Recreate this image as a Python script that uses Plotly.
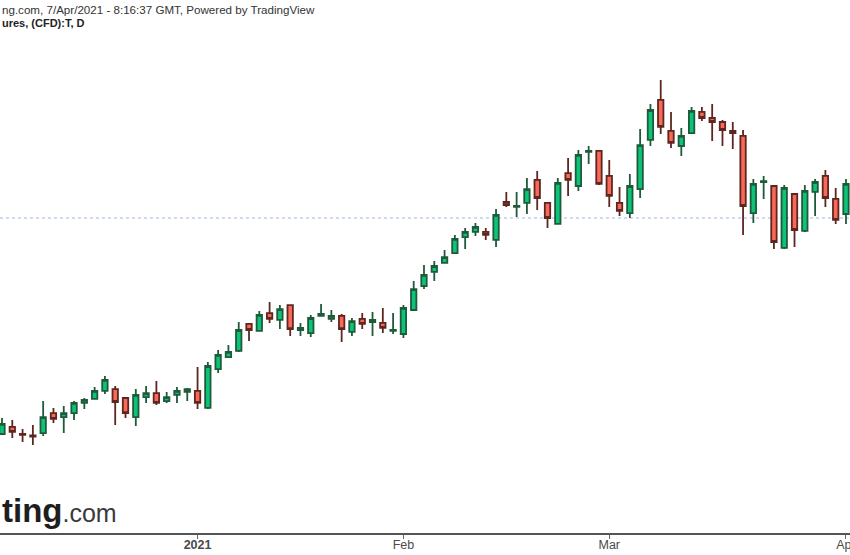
import plotly.graph_objects as go

dates = [
    "2020-12-04", "2020-12-07", "2020-12-08", "2020-12-09", "2020-12-10", "2020-12-11",
    "2020-12-14", "2020-12-15", "2020-12-16", "2020-12-17", "2020-12-18",
    "2020-12-21", "2020-12-22", "2020-12-23", "2020-12-24", "2020-12-28",
    "2020-12-29", "2020-12-30", "2020-12-31",
    "2021-01-04", "2021-01-05", "2021-01-06", "2021-01-07", "2021-01-08",
    "2021-01-11", "2021-01-12", "2021-01-13", "2021-01-14", "2021-01-15",
    "2021-01-18", "2021-01-19", "2021-01-20", "2021-01-21", "2021-01-22",
    "2021-01-25", "2021-01-26", "2021-01-27", "2021-01-28", "2021-01-29",
    "2021-02-01", "2021-02-02", "2021-02-03", "2021-02-04", "2021-02-05",
    "2021-02-08", "2021-02-09", "2021-02-10", "2021-02-11", "2021-02-12",
    "2021-02-15", "2021-02-16", "2021-02-17", "2021-02-18", "2021-02-19",
    "2021-02-22", "2021-02-23", "2021-02-24", "2021-02-25", "2021-02-26",
    "2021-03-01", "2021-03-02", "2021-03-03", "2021-03-04", "2021-03-05",
    "2021-03-08", "2021-03-09", "2021-03-10", "2021-03-11", "2021-03-12",
    "2021-03-15", "2021-03-16", "2021-03-17", "2021-03-18", "2021-03-19",
    "2021-03-22", "2021-03-23", "2021-03-24", "2021-03-25", "2021-03-26",
    "2021-03-29", "2021-03-30", "2021-03-31", "2021-04-01",
]

open_ = [
    45.80, 46.24, 45.80, 45.71, 45.86, 47.11, 46.86, 47.11, 47.74, 47.99, 48.49,
    48.61, 48.05, 46.86, 48.11, 48.36, 47.86, 48.24, 48.43,
    48.49, 47.43, 49.86, 50.61, 50.99, 52.68, 52.24, 53.36, 52.93, 53.86,
    52.30, 52.11, 53.18, 52.99, 53.18, 52.18, 52.99, 52.80, 52.74, 52.24,
    52.05, 53.55, 55.05, 55.93, 56.49, 57.11, 58.11, 58.43, 58.43, 57.93,
    60.30, 59.99, 60.24, 61.68, 60.24, 58.93, 62.11, 61.30, 63.43, 63.49,
    61.93, 60.24, 59.61, 61.11, 64.18, 66.68, 64.74, 63.80, 64.61, 65.93,
    65.55, 65.30, 64.74, 64.43, 59.61, 61.55, 61.30, 57.43, 60.80, 58.49,
    60.93, 61.93, 60.49, 59.55,
]
high = [
    46.80, 46.68, 46.11, 46.36, 47.86, 47.43, 47.55, 47.86, 48.05, 48.74, 49.43,
    48.80, 48.05, 48.61, 48.80, 49.11, 48.43, 48.74, 48.68,
    49.99, 50.30, 51.05, 51.36, 52.80, 52.74, 53.49, 54.05, 53.86, 53.86,
    52.74, 53.24, 53.93, 53.55, 53.30, 53.05, 53.36, 53.43, 53.68, 53.36,
    53.86, 55.36, 56.36, 56.61, 57.30, 58.24, 58.68, 58.99, 58.68, 59.86,
    60.93, 60.93, 61.80, 62.24, 60.30, 61.80, 63.05, 63.55, 63.80, 63.55,
    62.93, 61.24, 62.05, 64.86, 66.43, 67.93, 65.93, 64.93, 66.24, 66.24,
    66.43, 65.43, 65.30, 64.80, 61.74, 61.93, 61.36, 61.36, 60.86, 61.36,
    61.74, 62.30, 61.18, 61.74,
]
low = [
    45.74, 45.55, 45.30, 45.11, 45.68, 46.49, 45.86, 46.68, 47.36, 47.99, 48.30,
    46.36, 46.80, 46.30, 47.74, 47.61, 47.74, 47.74, 47.86,
    47.36, 47.36, 49.61, 50.55, 50.93, 51.61, 52.24, 52.74, 52.36, 51.93,
    51.93, 51.86, 53.18, 52.80, 51.55, 51.93, 52.36, 51.93, 52.11, 52.05,
    51.80, 53.55, 54.86, 55.36, 56.49, 57.11, 57.36, 58.18, 57.93, 57.49,
    59.99, 59.36, 59.55, 59.80, 58.68, 58.93, 60.68, 60.99, 62.68, 61.36,
    59.99, 59.43, 59.30, 60.55, 63.80, 64.55, 63.68, 63.18, 64.55, 65.36,
    64.11, 63.80, 63.61, 58.24, 58.99, 60.49, 57.36, 57.36, 57.49, 58.43,
    59.43, 59.99, 58.93, 58.93,
]
close = [
    46.43, 45.93, 45.74, 45.64, 46.86, 46.74, 47.11, 47.74, 47.93, 48.49, 49.18,
    47.80, 47.11, 48.24, 48.36, 47.74, 48.11, 48.49, 48.61,
    47.74, 50.05, 50.74, 50.93, 52.30, 52.30, 53.24, 52.99, 53.61, 52.36,
    52.43, 53.05, 53.30, 53.18, 52.36, 52.86, 52.68, 52.93, 52.43, 52.30,
    53.68, 54.86, 55.74, 56.30, 56.86, 57.99, 58.43, 58.74, 58.24, 59.49,
    60.11, 60.05, 61.11, 60.55, 59.30, 61.49, 61.68, 63.24, 63.49, 61.43,
    60.68, 59.74, 61.30, 63.86, 66.05, 64.99, 63.99, 64.43, 65.99, 65.55,
    65.30, 64.80, 64.61, 60.05, 61.43, 61.61, 57.80, 61.18, 58.55, 60.99,
    61.55, 60.55, 59.18, 61.43,
]

tick_dates = ["2021-01-04", "2021-02-01", "2021-03-01", "2021-04-01"]
tick_labels = ["<b>2021</b>", "Feb", "Mar", "Apr"]
last_price = 59.30

header_line1 = "ng.com, 7/Apr/2021 - 8:16:37 GMT, Powered by TradingView"
header_line2 = "ures, (CFD):T, D"

fig = go.Figure()
fig.add_trace(go.Candlestick(
    x=dates, open=open_, high=high, low=low, close=close,
    increasing=dict(fillcolor="#0cc479", line=dict(color="#1f5a3a", width=1.8)),
    decreasing=dict(fillcolor="#fa6858", line=dict(color="#5e2620", width=1.8)),
    whiskerwidth=0,
    showlegend=False,
    hoverinfo="x+y",
))

fig.add_shape(type="line", xref="paper", x0=0, x1=1, yref="y", y0=last_price, y1=last_price,
              line=dict(color="#9fb5ee", width=1, dash="dot"), layer="below")

fig.update_layout(
    width=850, height=555,
    margin=dict(l=0, r=0, t=0, b=22, autoexpand=False),
    paper_bgcolor="white", plot_bgcolor="white",
    boxgap=0.25,
    font=dict(family="Liberation Sans, Arial, sans-serif", color="#444"),
    xaxis=dict(
        type="category", range=[-0.194, 82.39], automargin=False,
        rangeslider=dict(visible=False),
        showgrid=False, zeroline=False,
        showline=True, linecolor="#555", linewidth=2,
        ticks="outside", ticklen=4, tickcolor="#666", tickwidth=1,
        ticklabelstandoff=-5,
        tickvals=tick_dates, ticktext=tick_labels,
        tickfont=dict(size=12.5, color="#4a4a4a"),
    ),
    yaxis=dict(
        range=[39.6125, 72.925], showgrid=False, zeroline=False, automargin=False,
        showticklabels=False, showline=False, ticks="",
    ),
    annotations=[
        dict(text=header_line1, xref="paper", yref="paper", x=0, y=1.0, xanchor="left",
             yanchor="top", yshift=-1, showarrow=False, font=dict(size=11.6, color="#333")),
        dict(text="<b>" + header_line2 + "</b>", xref="paper", yref="paper", x=0, y=1.0,
             xanchor="left", yanchor="top", yshift=-15, showarrow=False,
             font=dict(size=11, color="#222")),
        dict(text="<b>ting</b><span style='font-size:25px;color:#3a3a3a'>.com</span>",
             xref="paper", yref="paper", x=0, y=0.043, xanchor="left", yanchor="middle",
             showarrow=False, font=dict(size=33, color="#1e1e1e")),
    ],
)

fig.write_html("out.html")
